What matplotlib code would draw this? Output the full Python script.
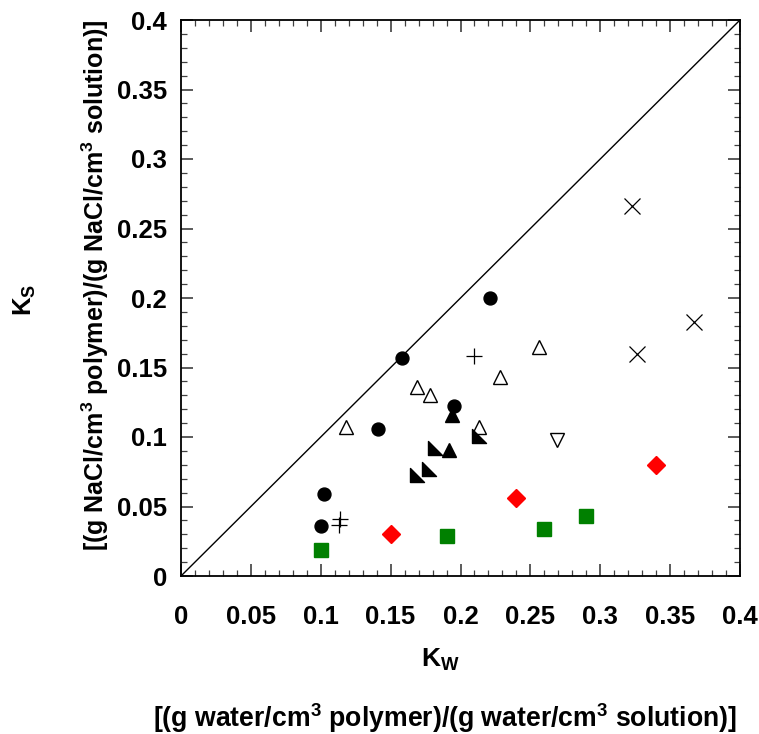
import matplotlib
matplotlib.use("Agg")
import matplotlib.pyplot as plt
from matplotlib.path import Path
from matplotlib.ticker import MultipleLocator, FuncFormatter

plt.rcParams['font.family'] = ['Liberation Sans', 'DejaVu Sans']
plt.rcParams['mathtext.fontset'] = 'custom'
plt.rcParams['mathtext.rm'] = 'Liberation Sans:bold'
plt.rcParams['mathtext.bf'] = 'Liberation Sans:bold'
plt.rcParams['mathtext.it'] = 'Liberation Sans:bold'

# ---- data (Kw, Ks) ----
circ_x = [0.100, 0.102, 0.141, 0.158, 0.195, 0.221]
circ_y = [0.036, 0.059, 0.106, 0.157, 0.122, 0.200]

tri_open_x = [0.118, 0.169, 0.178, 0.213, 0.228, 0.256]
tri_open_y = [0.107, 0.136, 0.130, 0.107, 0.143, 0.165]

plus_x = [0.114, 0.113, 0.210]
plus_y = [0.041, 0.037, 0.158]

tri_fill_x = [0.194, 0.192]
tri_fill_y = [0.116, 0.091]

half_x = [0.169, 0.1775, 0.182, 0.213]
half_y = [0.0725, 0.077, 0.092, 0.1005]

tri_down_x = [0.269]
tri_down_y = [0.098]

cross_x = [0.323, 0.367, 0.326]
cross_y = [0.266, 0.183, 0.160]

dia_x = [0.150, 0.240, 0.340]
dia_y = [0.030, 0.056, 0.080]

sq_x = [0.100, 0.190, 0.260, 0.290]
sq_y = [0.019, 0.029, 0.034, 0.043]

x_ticks = [0, 0.05, 0.1, 0.15, 0.2, 0.25, 0.3, 0.35, 0.4]
y_ticks = [0, 0.05, 0.1, 0.15, 0.2, 0.25, 0.3, 0.35, 0.4]

fig = plt.figure(figsize=(7.59, 7.34), dpi=100)
ax = fig.add_axes([181/759, 1 - 576/734, (740-181)/759, (576-20)/734])

ax.plot([0, 0.4], [0, 0.4], color='black', lw=1.0, zorder=1)

ax.plot(circ_x, circ_y, 'o', ms=9.3, color='black', zorder=3)
ax.plot(tri_open_x, tri_open_y, '^', ms=10, mfc='white', mec='black', mew=1.0, zorder=3)
ax.plot(plus_x, plus_y, '+', ms=11, color='black', mew=0.9, zorder=3)
ax.plot(tri_fill_x, tri_fill_y, '^', ms=10, color='black', zorder=3)
half_marker = Path([(-1, 1), (-1, -1), (1, -1), (-1, 1)],
                   [Path.MOVETO, Path.LINETO, Path.LINETO, Path.CLOSEPOLY])
ax.plot(half_x, half_y, marker=half_marker, ls='none', ms=9.5, color='black', zorder=3)
ax.plot(tri_down_x, tri_down_y, 'v', ms=10, mfc='white', mec='black', mew=1.0, zorder=3)
ax.plot(cross_x, cross_y, 'x', ms=12, color='black', mew=0.9, zorder=3)
ax.plot(dia_x, dia_y, 'D', ms=8.8, color='#ff0000', zorder=3)
ax.plot(sq_x, sq_y, 's', ms=9.5, color='#008000', zorder=3)

ax.set_xlim(0, 0.4)
ax.set_ylim(0, 0.4)
ax.set_xticks(x_ticks)
ax.set_yticks(y_ticks)
fmt = FuncFormatter(lambda v, p: ('%g' % round(v, 3)))
ax.xaxis.set_major_formatter(fmt)
ax.yaxis.set_major_formatter(fmt)
ax.xaxis.set_minor_locator(MultipleLocator(0.01))
ax.yaxis.set_minor_locator(MultipleLocator(0.01))
ax.tick_params(which='both', direction='in', top=True, right=True)
ax.tick_params(which='major', length=8.5, width=1.2, color='#404040')
ax.tick_params(axis='x', which='major', pad=21)
ax.tick_params(axis='y', which='major', pad=10)
ax.tick_params(which='minor', length=4.5, width=0.9, color='#404040')
for lab in ax.get_xticklabels() + ax.get_yticklabels():
    lab.set_fontweight('bold')
    lab.set_fontsize(18.5)
for s in ax.spines.values():
    s.set_linewidth(1.3)
    s.set_color('black')

fig.text(440/759, 1 - 660/734, r'K$_\mathregular{W}$', ha='center', va='center',
         fontsize=19, fontweight='bold')
fig.text(445/759, 1 - 718/734,
         r'[(g water/cm$^\mathregular{3}$ polymer)/(g water/cm$^\mathregular{3}$ solution)]',
         ha='center', va='center', fontsize=19.2, fontweight='bold')
fig.text(25/759, 1 - 300/734, r'K$_\mathregular{S}$', ha='center', va='center',
         rotation=90, fontsize=18.5, fontweight='bold')
fig.text(95/759, 1 - 285/734,
         r'[(g NaCl/cm$^\mathregular{3}$ polymer)/(g NaCl/cm$^\mathregular{3}$ solution)]',
         ha='center', va='center', rotation=90, fontsize=18, fontweight='bold')

fig.savefig('out.png', dpi=100, facecolor='white')
